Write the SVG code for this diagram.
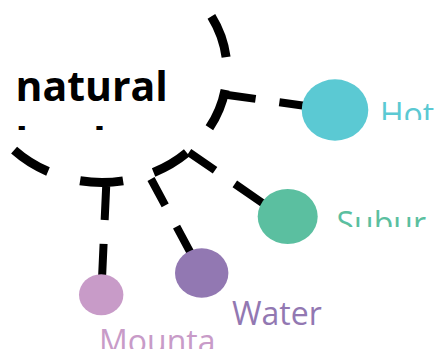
<svg xmlns="http://www.w3.org/2000/svg" width="438" height="349" viewBox="0 0 438 349">
<style>
.edge{fill:none;stroke:#000;stroke-width:8;stroke-dasharray:34 24}
.ring{fill:none;stroke:#000;stroke-width:9}
.root-label{font-family:"Open Sans","Noto Sans",sans-serif;font-weight:700;font-size:41px;fill:#000}
.label{font-family:"Open Sans","Noto Sans",sans-serif;font-size:32px}
</style>
<defs>
<clipPath id="clip-root"><rect x="0" y="0" width="230" height="130"/></clipPath>
<clipPath id="clip-hot"><rect x="370" y="90" width="68" height="30"/></clipPath>
<clipPath id="clip-sub"><rect x="330" y="195" width="98" height="32"/></clipPath>
<clipPath id="clip-mtn"><rect x="90" y="320" width="130" height="29"/></clipPath>
</defs>
<rect width="438" height="349" fill="#fff"/>
<g id="connectors">
<path class="edge" d="M224,94.5 L335,110" stroke-dashoffset="2.1"/>
<path class="edge" d="M189,152.4 L280,215" stroke-dashoffset="2.4"/>
<path class="edge" d="M151,179 L201.5,273" stroke-dashoffset="4"/>
<path class="edge" d="M106.2,186 L101.5,290"/>
</g>
<g id="node-root">
<path class="ring" d="M211.4,16.4 A125,112 0 0 1 226.1,57.2"/>
<path class="ring" d="M225.1,89.9 A125,112 0 0 1 209.4,127.8"/>
<path class="ring" d="M186.8,152.8 A125,112 0 0 1 153.6,172.5"/>
<path class="ring" d="M123.1,180.9 A125,112 0 0 1 80.1,180.8"/>
<path class="ring" d="M48,171.5 A125,112 0 0 1 14.1,150.1"/>
<g clip-path="url(#clip-root)">
<text class="root-label" x="15.5" y="101">natural</text>
<text class="root-label" x="15.5" y="157">landscape</text>
</g>
</g>
<g id="node-hot">
<ellipse cx="335" cy="110" rx="33.3" ry="30.7" fill="#5BC9D3"/>
<text class="label" x="380" y="126" fill="#5BC9D3" clip-path="url(#clip-hot)">Hot</text>
</g>
<g id="node-suburban">
<ellipse cx="287.7" cy="216.5" rx="30" ry="27.5" fill="#5BBFA0"/>
<text class="label" x="336.5" y="234.5" fill="#5BBFA0" clip-path="url(#clip-sub)">Subur</text>
</g>
<g id="node-water">
<ellipse cx="201.7" cy="273" rx="26.7" ry="24.7" fill="#9278B2"/>
<text class="label" x="232" y="325" fill="#9278B2">Water</text>
</g>
<g id="node-mountain">
<ellipse cx="101.2" cy="294.8" rx="22.2" ry="20.5" fill="#C89BC8"/>
<text class="label" x="99" y="353" fill="#C89BC8" clip-path="url(#clip-mtn)">Mounta</text>
</g>
</svg>
